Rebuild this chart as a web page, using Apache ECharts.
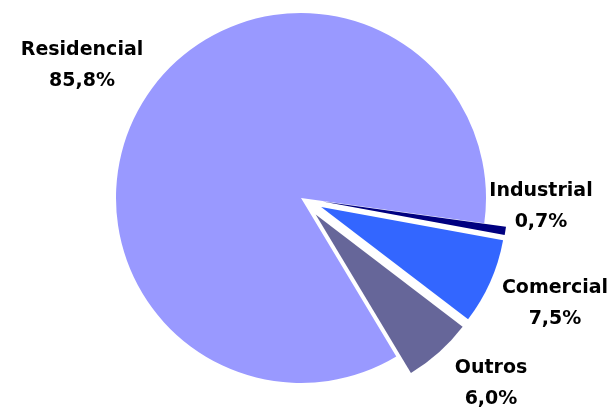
<!DOCTYPE html>
<html>
<head>
<meta charset="utf-8">
<script src="https://cdn.jsdelivr.net/npm/echarts@6/dist/echarts.min.js"></script>
<style>
  html, body { margin: 0; padding: 0; background: #fff; }
  #chart { width: 615px; height: 411px; }
</style>
</head>
<body>
<div id="chart"></div>
<script>
// Consumption share by sector (%)
const categories = ['Residencial', 'Industrial', 'Comercial', 'Outros'];
const shares = [85.8, 0.7, 7.5, 6.0];
const colors = ['#9999FF', '#000080', '#3366FF', '#666699'];
const pulledOut = [false, true, true, true];

// Label block centres placed around the pie
const labelAnchors = [[82, 66], [541, 207], [555, 304], [491, 384]];

const fmt = v => v.toFixed(1).replace('.', ',') + '%';
const labelFont = 'bold 19px "DejaVu Sans"';

const chart = echarts.init(document.getElementById('chart'), null, { renderer: 'canvas' });

chart.setOption({
  animation: false,
  backgroundColor: '#ffffff',
  series: [{
    type: 'pie',
    center: [301, 198],
    radius: [0, 185],
    startAngle: 301,
    clockwise: true,
    selectedMode: 'multiple',
    selectedOffset: 22,
    silent: true,
    itemStyle: { borderWidth: 0 },
    label: { show: false },
    labelLine: { show: false },
    emphasis: { disabled: true },
    data: categories.map((c, i) => ({
      name: c,
      value: shares[i],
      selected: pulledOut[i],
      itemStyle: { color: colors[i] }
    }))
  }],
  graphic: categories.map((c, i) => ({
    type: 'text',
    x: labelAnchors[i][0],
    y: labelAnchors[i][1],
    silent: true,
    style: {
      text: c + '\n' + fmt(shares[i]),
      font: labelFont,
      lineHeight: 31,
      fill: '#000',
      align: 'center',
      verticalAlign: 'middle'
    }
  }))
});
</script>
</body>
</html>
